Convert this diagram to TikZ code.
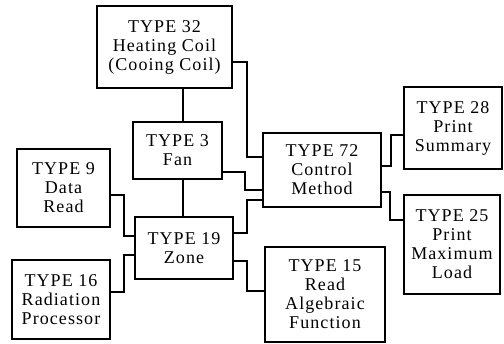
\documentclass[tikz,border=0pt]{standalone}
\usepackage{fontspec}
\setmainfont{Liberation Serif}[LetterSpace=6]
\usepackage{tikz}
\usetikzlibrary{positioning}

\begin{document}
\begin{tikzpicture}[x=1pt, y=-1pt, line width=1.1pt, every node/.style={draw, align=center, font=\fontsize{18}{19}\selectfont, inner sep=0pt, line width=1.1pt}]
\useasboundingbox (0,0) rectangle (504,344);
\node[minimum width=135pt, minimum height=82pt] (t32) at (164.5,47) {TYPE 32\\Heating Coil\\(Cooing Coil)};
\node[minimum width=89pt, minimum height=57pt] (t3) at (177.5,150.5) {TYPE 3\\Fan};
\node[minimum width=93pt, minimum height=78pt] (t9) at (63.5,188) {TYPE 9\\Data\\Read};
\node[minimum width=118pt, minimum height=74pt] (t72) at (322,170) {TYPE 72\\Control\\Method};
\node[minimum width=98pt, minimum height=82pt] (t28) at (453,128) {TYPE 28\\Print\\Summary};
\node[minimum width=96pt, minimum height=99pt] (t25) at (452,244.5) {TYPE 25\\Print\\Maximum\\Load};
\node[minimum width=98pt, minimum height=62pt] (t19) at (184,248) {TYPE 19\\Zone};
\node[minimum width=98pt, minimum height=79pt] (t16) at (61,299.5) {TYPE 16\\Radiation\\Processor};
\node[minimum width=120pt, minimum height=95pt] (t15) at (325,294.5) {TYPE 15\\Read\\Algebraic\\Function};
% links
\draw (t32.south -| 183,0) -- (t3.north -| 183,0);
\draw (t3.south -| 183,0) -- (t19.north -| 183,0);
\draw (t32.east |- 0,62) -| (247,157) -- (t72.west |- 0,157);
\draw (t3.east |- 0,172) -| (245,190) -- (t72.west |- 0,190);
\draw (t19.east |- 0,233) -| (247,200) -- (t72.west |- 0,200);
\draw (t19.east |- 0,261) -| (247,291) -- (t15.west |- 0,291);
\draw (t9.east |- 0,195) -| (124,236) -- (t19.west |- 0,236);
\draw (t16.east |- 0,292) -| (124,255) -- (t19.west |- 0,255);
\draw (t72.east |- 0,192) -| (390,220) -- (t25.west |- 0,220);
\draw (t72.east |- 0,166) -| (391,135) -- (t28.west |- 0,135);
\end{tikzpicture}
\end{document}
